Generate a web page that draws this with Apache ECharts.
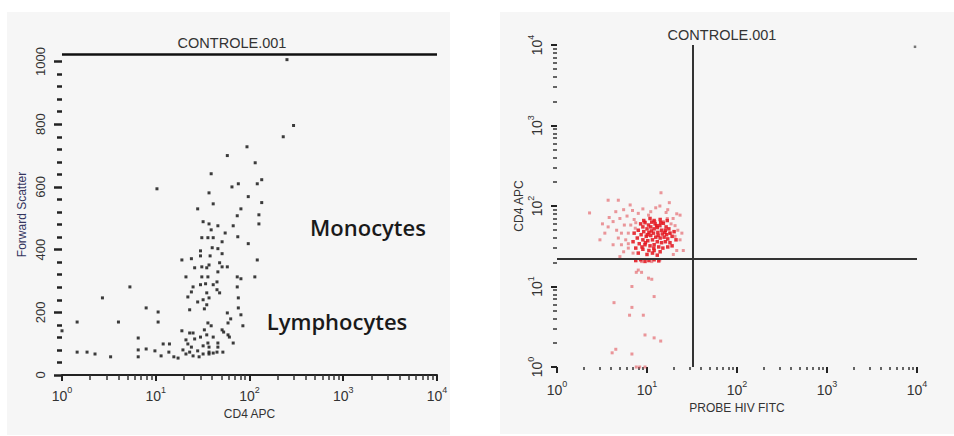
<!DOCTYPE html>
<html>
<head>
<meta charset="utf-8">
<script src="https://cdn.jsdelivr.net/npm/echarts@6/dist/echarts.min.js"></script>
<style>
  html, body { margin: 0; padding: 0; background: #fff; }
  .panel { position: absolute; background: #f6f6f6; }
  #chart { position: absolute; left: 0; top: 0; width: 954px; height: 436px; }
</style>
</head>
<body>
<div class="panel" style="left:7px;top:12px;width:443px;height:423px"></div>
<div class="panel" style="left:500px;top:12px;width:454px;height:422px"></div>
<div id="chart"></div>
<script>
// log axis helpers
const minorTicks = [2,3,4,5,6,7,8,9,20,30,40,50,60,70,80,90,200,300,400,500,600,700,800,900,2000,3000,4000,5000,6000,7000,8000,9000];
const fscTicks = [0, 200, 400, 600, 800, 1000];
const fscMinorTicks = [40,80,120,160,240,280,320,360,440,480,520,560,640,680,720,760,840,880,920,960];
const fscMax = 1024;

// left plot: CD4 APC vs Forward Scatter
const cd4VsFsc = [
  [251,1006],[295,796],[229,760],[94,728],[58,700],[115,677],[135,623],[121,610],[39,642],[10.3,594],
  [65,600],[76,610],[37,581],[97,569],[41,546],[135,550],[28,530],[81,530],[32,489],[37,482],
  [46,476],[74,508],[126,511],[126,482],[39,463],[67,476],[55,453],[31,438],[36,438],[41,438],
  [75,441],[51,425],[97,419],[40,406],[46,403],[30,396],[38,380],[51,387],[19,367],[24,371],
  [30,380],[37,351],[48,358],[51,345],[121,367],[26,342],[31,345],[35,342],[58,345],[74,313],
  [21,313],[31,313],[36,313],[46,329],[45,297],[114,313],[81,307],[30,288],[34,291],[41,288],
  [25,281],[45,272],[48,262],[35,262],[74,281],[24,265],[22,249],[32,240],[37,246],[28,233],
  [76,246],[35,224],[33,211],[23,208],[76,214],[58,198],[81,192],[63,179],[59,166],[85,157],
  [36,166],[39,157],[33,144],[51,144],[53,137],[19,141],[23,134],[25,134],[30,121],[35,128],
  [41,121],[59,128],[61,121],[21,112],[26,115],[36,102],[46,102],[67,102],[6.5,118],[12,99],
  [14,99],[22,99],[24,89],[32,93],[37,89],[46,89],[6.5,80],[7.9,83],[9.8,77],[13.8,73],
  [19.5,80],[23,73],[28,77],[37,73],[45,73],[52,73],[1.45,73],[1.85,73],[2.25,67],[3.3,58],
  [6.5,58],[11.4,61],[15.6,58],[17.3,54],[21,67],[25,61],[32,67],[37,67],[41,70],[29,58],
  [1.45,169],[1.0,141],[4.0,169],[2.7,246],[5.3,281],[7.9,214],[10.6,201],[10.6,169]
];

// right plot: PROBE HIV FITC vs CD4 APC
const fitcVsCd4Core = [
  [8.5,60],[9.5,62],[10.4,58],[11.3,63],[12.3,60],[13.9,57],[15.2,61],[16.3,55],[9,55],[10,52],
  [11,55],[12,52],[13,54],[14.5,50],[16,50],[17.5,52],[8,50],[9.2,48],[10.5,47],[11.8,46],
  [13.2,47],[14.8,45],[16.5,44],[18,46],[8.6,44],[9.8,42],[11,43],[12.5,41],[14,40],[15.5,41],
  [17,39],[19,42],[7.8,40],[9,38],[10.2,37],[11.5,38],[13,36],[14.5,35],[16,36],[18,35],
  [8.2,34],[9.5,33],[10.8,32],[12,33],[13.5,31],[15,30],[17,31],[7.5,30],[9,29],[10.5,28],
  [12,28],[14,27],[8,26],[10,25],[11.5,26],[13,24.5],[7.2,46],[7.0,36],[20,48],[21,38],
  [19,32],[12,66],[14,68],[10.8,70],[16.8,66],[9.2,66],[13.3,43],[11.2,49],[12.8,57],[10.1,44],
  [15.8,47],[9.6,35],[11.9,30],[14.2,62],[8.8,31],[7.5,21],[8.5,21.5],[9.5,20.5],[10.5,21],[12,21.5],
  [13.5,20.8]
];
const fitcVsCd4Sparse = [
  [14.3,146],[17.7,110],[13.9,100],[6.5,103],[8.0,81],[10.4,77],[16.3,83],[21.4,80],[23.3,77],[16.8,70],
  [15.2,64],[12.3,64],[9.5,64],[5.0,70],[4.2,64],[3.7,55],[3.4,46],[3.0,38],[4.6,50],[5.2,46],
  [6.2,46],[7.4,53],[6.2,34],[5.2,33],[4.2,33],[6.2,30],[7.0,26],[5.5,27],[5.0,23.5],[8.7,20.4],
  [11.3,20.4],[13.9,21.4],[18.0,46],[20.5,42],[23.3,38],[25.3,28],[21.4,28],[19.6,25],[2.3,82],[3.7,118],
  [4.8,118],[24.4,46],[7.6,15],[8.7,15],[8.0,16],[10.4,12.7],[11.3,12.3],[6.8,10],[12,7.5],[4.3,6.3],
  [6.8,5.5],[6.4,4.4],[9.1,4.4],[9.5,2.5],[12,2.3],[14.2,2.1],[4.5,1.66],[4.1,1.5],[6.8,1.45],[7.6,1.0],
  [8.3,1.0],[9.5,1.0],[3.2,60],[3.8,72],[4.5,85],[5.5,90],[6.0,75],[4.8,40],[5.8,38],[6.6,58],
  [7.2,68],[5.6,58],[6.9,88],[18.5,60],[19.5,70],[20.5,57],[22,50],[17,90],[12.5,95],[9,92],
  [11,85],[7.5,62]
];
const cornerEvents = [[9500, 9500]];
const gateFitc = 32;
const gateCd4 = 22;

const textColor = '#333';
const font = 'Liberation Sans';
const supRich = {
  b: { fontSize: 14, fontFamily: font, color: textColor, lineHeight: 18, verticalAlign: 'bottom' },
  s: { fontSize: 9, fontFamily: font, color: textColor, lineHeight: 10, verticalAlign: 'top' },
  n: { fontSize: 13, fontFamily: font, color: textColor, lineHeight: 16 }
};
const powLabel = v => '{b|10}{s|' + Math.round(Math.log10(v)) + '}';

function logAxis(grid, pos, name, gap, margin, showLine, rotate) {
  return {
    type: 'log', logBase: 10, min: 1, max: 10000, gridIndex: grid, position: pos,
    name: name, nameLocation: 'middle', nameGap: gap,
    nameTextStyle: { fontFamily: font, fontSize: 12, color: textColor },
    axisLine: { show: showLine, lineStyle: { color: '#222', width: 2 } },
    axisTick: { show: true, length: 6, lineStyle: { color: '#222', width: 2 } },
    axisLabel: { formatter: powLabel, rich: supRich, margin: margin, rotate: rotate },
    splitLine: { show: false }
  };
}
function minorAxis(grid, pos, len) {
  return {
    type: 'value', min: 0, max: 4, gridIndex: grid, position: pos,
    axisLine: { show: false },
    axisLabel: { show: false },
    splitLine: { show: false },
    axisTick: { show: true, length: len, lineStyle: { color: '#333', width: 1.5 },
      customValues: minorTicks.map(Math.log10) }
  };
}

const chart = echarts.init(document.getElementById('chart'), null, { renderer: 'svg' });
chart.setOption({
  animation: false,
  backgroundColor: 'transparent',
  grid: [
    { left: 62, top: 54, width: 375, height: 321, outerBoundsMode: 'none' },
    { left: 557, top: 45, width: 360, height: 322, outerBoundsMode: 'none' }
  ],
  xAxis: [
    logAxis(0, 'bottom', 'CD4 APC', 32, 10, true, 0),
    minorAxis(0, 'bottom', 5),
    logAxis(1, 'bottom', 'PROBE HIV FITC', 29, 12, false, 0),
    minorAxis(1, 'bottom', 3)
  ],
  yAxis: [
    {
      type: 'value', min: 0, max: fscMax, interval: 200, gridIndex: 0, position: 'left',
      name: 'Forward Scatter', nameLocation: 'middle', nameGap: 34,
      nameTextStyle: { fontFamily: font, fontSize: 12, color: '#34345e' },
      axisLine: { show: false },
      axisTick: { show: true, length: 8, lineStyle: { color: '#222', width: 2.5 }, customValues: fscTicks },
      axisLabel: {
        rotate: 90, margin: 14, rich: supRich,
        showMaxLabel: false,
        formatter: v => (v > 1000 ? '' : '{n|' + v + '}')
      },
      splitLine: { show: false }
    },
    {
      type: 'value', min: 0, max: fscMax, gridIndex: 0, position: 'left',
      axisLine: { show: false }, axisLabel: { show: false }, splitLine: { show: false },
      axisTick: { show: true, length: 5, lineStyle: { color: '#222', width: 2.5 }, customValues: fscMinorTicks }
    },
    logAxis(1, 'left', 'CD4 APC', 31, 13, false, 90),
    minorAxis(1, 'left', 4)
  ],
  series: [
    {
      type: 'scatter', xAxisIndex: 0, yAxisIndex: 0, data: cd4VsFsc,
      symbol: 'rect', symbolSize: 3,
      itemStyle: { color: '#1a1a1a', opacity: 0.85 },
      markLine: {
        silent: true, symbol: 'none', label: { show: false },
        lineStyle: { color: '#111', width: 2.5, type: 'solid' },
        data: [{ yAxis: fscMax }]
      }
    },
    {
      type: 'scatter', xAxisIndex: 2, yAxisIndex: 2, data: fitcVsCd4Sparse,
      symbol: 'rect', symbolSize: 3,
      itemStyle: { color: '#e0464d', opacity: 0.55 }
    },
    {
      type: 'scatter', xAxisIndex: 2, yAxisIndex: 2, data: fitcVsCd4Core,
      symbol: 'rect', symbolSize: 3.5,
      itemStyle: { color: '#e3121b', opacity: 0.85 },
      markLine: {
        silent: true, symbol: 'none', label: { show: false },
        lineStyle: { color: '#333', width: 2, type: 'solid' },
        data: [{ xAxis: gateFitc }, { yAxis: gateCd4 }]
      }
    },
    {
      type: 'scatter', xAxisIndex: 2, yAxisIndex: 2, data: cornerEvents,
      symbol: 'rect', symbolSize: 2.5,
      itemStyle: { color: '#555' }
    }
  ],
  graphic: [
    { type: 'text', x: 232, y: 43, style: { text: 'CONTROLE.001', font: '14.5px "Liberation Sans"', fill: textColor, textAlign: 'center', verticalAlign: 'middle' } },
    { type: 'text', x: 722, y: 35, style: { text: 'CONTROLE.001', font: '14.5px "Liberation Sans"', fill: textColor, textAlign: 'center', verticalAlign: 'middle' } },
    { type: 'text', x: 368, y: 227, style: { text: 'Monocytes', font: '600 22px "Open Sans"', fill: '#1a1a1a', textAlign: 'center', verticalAlign: 'middle' } },
    { type: 'text', x: 337, y: 321, style: { text: 'Lymphocytes', font: '600 22px "Open Sans"', fill: '#1a1a1a', textAlign: 'center', verticalAlign: 'middle' } }
  ]
});

window.addEventListener('resize', function() {
  chart.resize();
});
</script>
</body>
</html>
